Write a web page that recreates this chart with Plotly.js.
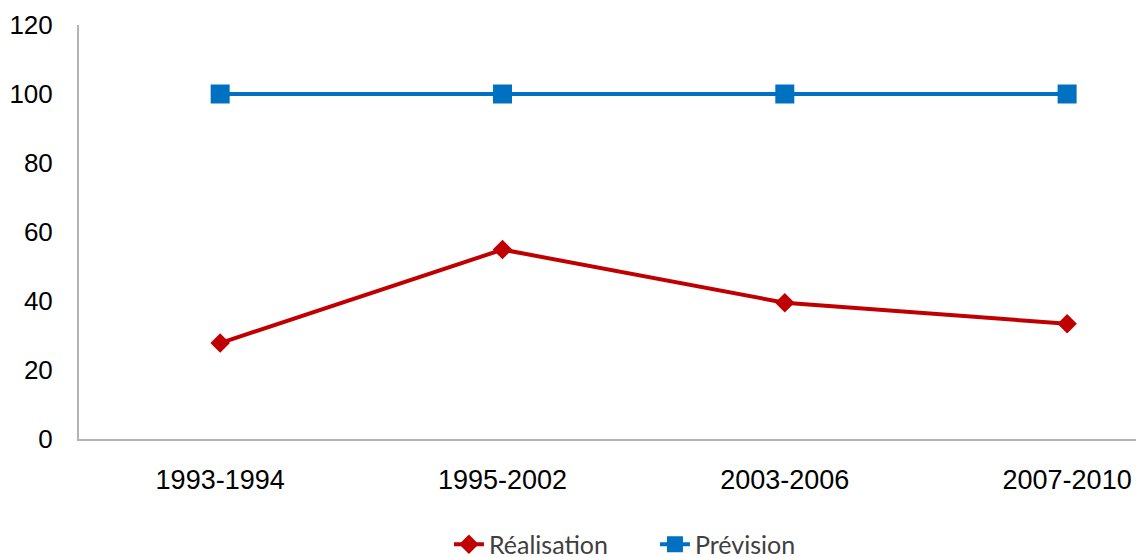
<!DOCTYPE html>
<html>
<head>
<meta charset="utf-8">
<script src="https://cdn.plot.ly/plotly-3.0.1.min.js"></script>
<style>html,body{margin:0;padding:0;background:#fff;overflow:hidden}#chart{width:1136px;height:557px}</style>
</head>
<body>
<div id="chart"></div>
<script>
const categories = ["1993-1994", "1995-2002", "2003-2006", "2007-2010"];
const realisation = [27.8, 54.9, 39.5, 33.4];
const prevision = [100, 100, 100, 100];
const yTicks = [0, 20, 40, 60, 80, 100, 120];

const traces = [
  {
    x: categories, y: realisation, name: "Réalisation", type: "scatter", mode: "lines+markers",
    line: {color: "#C00000", width: 4},
    marker: {symbol: "diamond", size: 15, color: "#C00000"}
  },
  {
    x: categories, y: prevision, name: "Prévision", type: "scatter", mode: "lines+markers",
    line: {color: "#0070C0", width: 4},
    marker: {symbol: "square", size: 19, color: "#0070C0"}
  }
];

const layout = {
  width: 1136, height: 557,
  margin: {l: 79, r: 0, t: 24.5, b: 117.5, autoexpand: false},
  paper_bgcolor: "#fff", plot_bgcolor: "#fff",
  showlegend: true,
  font: {family: "Liberation Sans, Arial, sans-serif", color: "#000", size: 26},
  xaxis: {
    type: "category", range: [-0.5, 3.244],
    showgrid: false, zeroline: false, showline: true, linecolor: "#b3b3b3", linewidth: 2,
    ticks: "", ticklabelstandoff: 16,
    tickfont: {size: 27, color: "#000"}, fixedrange: true
  },
  yaxis: {
    range: [0, 120], tickvals: yTicks, ticktext: yTicks.map(String),
    showgrid: false, zeroline: false, showline: true, linecolor: "#b3b3b3", linewidth: 2,
    ticks: "", ticklabelstandoff: 19,
    tickfont: {size: 26, color: "#000"}, fixedrange: true
  },
  legend: {
    orientation: "h", x: 0.350, xanchor: "left", y: -0.255, yanchor: "middle",
    font: {family: "Lato, Liberation Sans, sans-serif", size: 25, color: "#404040"},
    bgcolor: "rgba(0,0,0,0)", entrywidth: 161, entrywidthmode: "pixels", tracegroupgap: 0
  }
};

Plotly.newPlot("chart", traces, layout, {displayModeBar: false, staticPlot: true});
</script>
</body>
</html>
